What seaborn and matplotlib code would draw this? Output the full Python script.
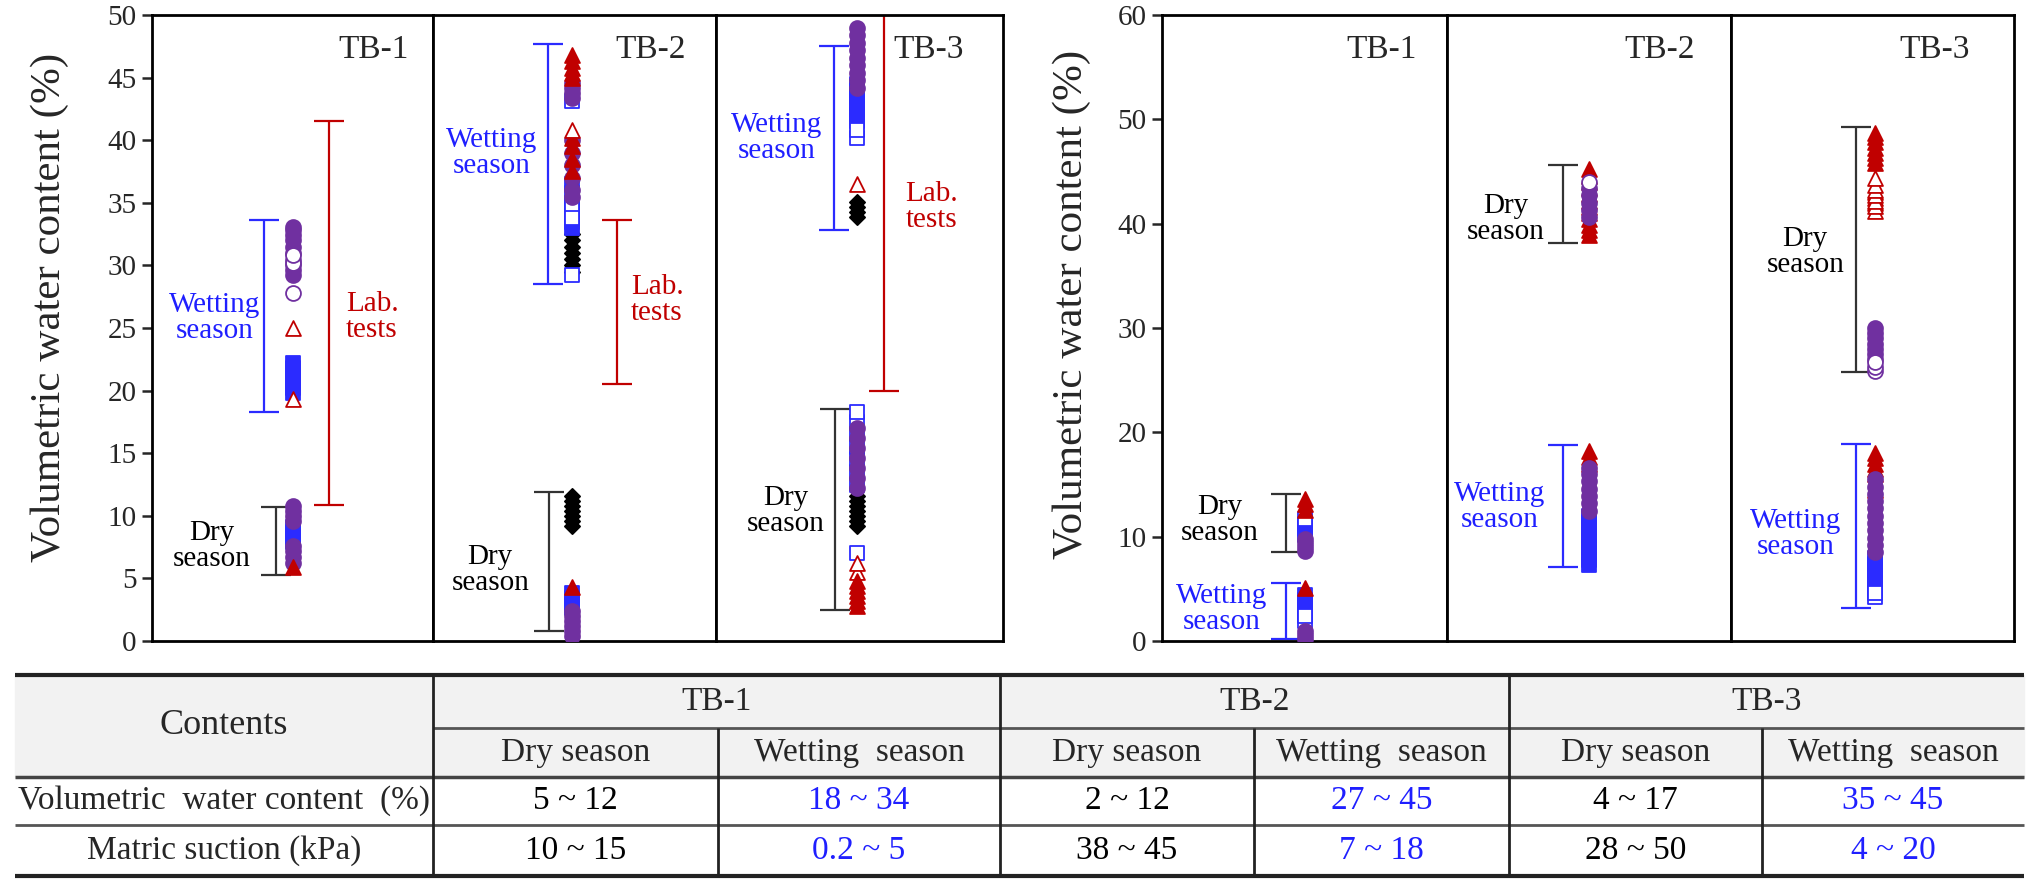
import numpy as np
import matplotlib
matplotlib.use("Agg")
import matplotlib.pyplot as plt
import seaborn as sns

# ---------------- data ----------------
panels = ["TB-1", "TB-2", "TB-3"]

# bracket ranges (low, high) of volumetric water content (%)
left_wet_range = [(18.3, 33.6), (28.5, 47.7), (32.8, 47.5)]
left_dry_range = [(5.3, 10.7), (0.8, 11.9), (2.5, 18.5)]
left_lab_range = [(10.9, 41.5), (20.5, 33.6), (20.0, 50.0)]
right_dry_range = [(8.5, 14.1), (38.1, 45.6), (25.8, 49.3)]
right_wet_range = [(0.2, 5.6), (7.1, 18.8), (3.2, 18.9)]

# measured points per panel, grouped by sensor symbol
left_tb1 = {
    "sq": [19.8, 20.2, 20.6, 21.0, 21.4, 21.8, 22.2, 7.9, 8.3, 8.7, 9.1],
    "circ": [29.2, 29.6, 30.0, 30.4, 31.0, 31.5, 32.0, 32.4, 32.8, 33.1,
             6.2, 6.7, 7.2, 7.6, 9.6, 10.0, 10.4, 10.8],
    "circ_o": [27.8, 30.2, 30.8],
    "tri_o": [25.0, 19.3],
    "tri": [5.9],
}
left_tb2 = {
    "dia": [29.5, 30.0, 30.5, 31.0, 31.5, 32.0, 32.5,
            9.2, 9.6, 10.0, 10.4, 10.8, 11.2, 11.6],
    "sq": [33.0, 33.5, 34.0, 34.5, 35.0, 36.5, 2.6, 3.0, 3.4, 3.8],
    "sq_o": [43.1, 35.8, 34.8, 33.8, 29.2],
    "circ": [43.4, 43.8, 44.2, 44.6, 40.0, 39.0, 38.0, 37.0, 36.0, 35.5,
             0.4, 0.8, 1.2, 1.6, 2.0, 2.4],
    "tri": [45.0, 45.4, 45.8, 46.3, 46.8, 40.2, 39.5, 38.5, 37.5, 4.3],
    "tri_o": [40.8],
}
left_tb3 = {
    "dia": [33.9, 34.3, 34.7, 35.1, 9.2, 9.6, 10.0, 10.4, 10.8, 11.2, 11.6],
    "sq": [41.5, 42.0, 42.5, 43.0, 43.5, 44.0, 44.5],
    "sq_o": [40.2, 40.8, 12.5, 13.5, 14.5, 15.5, 16.5, 17.5, 18.3, 7.0],
    "circ": [44.2, 44.8, 45.4, 46.0, 46.6, 47.2, 47.8, 48.4, 49.0,
             12.2, 13.0, 13.8, 14.6, 15.4, 16.2, 17.0],
    "tri_o": [36.5, 5.5, 6.2],
    "tri": [2.8, 3.2, 3.6, 4.0, 4.4, 4.8],
}
right_tb1 = {
    "sq": [10.2, 10.7, 11.2, 2.9, 3.4, 3.9, 4.4],
    "sq_o": [11.7, 1.9, 2.4],
    "circ": [8.6, 9.0, 9.4, 9.8, 0.2, 0.6, 1.0],
    "tri": [12.6, 13.1, 13.6, 5.1],
}
right_tb2 = {
    "sq": [7.3, 7.8, 8.4, 9.0, 9.6, 10.2, 10.8, 11.4, 12.0],
    "tri": [38.9, 39.4, 39.9, 40.4, 41.0, 41.6, 42.2, 42.8, 43.4, 44.0,
            44.6, 45.2, 17.0, 17.6, 18.2],
    "circ": [40.6, 41.3, 42.0, 42.7, 43.4,
             12.5, 13.2, 13.9, 14.6, 15.3, 16.0, 16.6],
    "circ_o": [44.0],
}
right_tb3 = {
    "sq": [5.0, 5.6, 6.2, 6.8, 7.4, 8.0],
    "sq_o": [4.2, 4.6],
    "tri": [45.8, 46.3, 46.8, 47.3, 47.8, 48.3, 48.7, 42.0, 42.5, 43.0,
            16.0, 16.5, 17.0, 17.5, 18.0],
    "tri_o": [41.2, 41.7, 42.2, 42.7, 43.2, 43.7, 44.4, 14.5],
    "circ": [27.0, 27.5, 28.0, 28.5, 29.0, 29.5, 30.0,
             8.5, 9.2, 9.9, 10.6, 11.3, 12.0, 12.7, 13.4, 14.1, 14.8, 15.5],
    "circ_o": [25.9, 26.3, 26.7],
}

# summary table
table_groups = ["TB-1", "TB-2", "TB-3"]
table_seasons = ["Dry season", "Wetting  season"]
row_labels = ["Volumetric  water content  (%)", "Matric suction (kPa)"]
vwc_ranges = ["5 ~ 12", "18 ~ 34", "2 ~ 12", "27 ~ 45", "4 ~ 17", "35 ~ 45"]
suction_ranges = ["10 ~ 15", "0.2 ~ 5", "38 ~ 45", "7 ~ 18", "28 ~ 50", "4 ~ 20"]

# ---------------- style ----------------
sns.set_style("white")
plt.rcParams["font.family"] = ["Liberation Serif", "DejaVu Serif"]

RED = "#c00000"
BLUE = "#2b2bff"
PURPLE = "#7030a0"
TXT_BLUE = "#1f1fff"

STYLE = {
    "dia": dict(marker="D", fc="black", ec="black", s=60),
    "sq": dict(marker="s", fc=BLUE, ec=BLUE, s=105),
    "sq_o": dict(marker="s", fc="white", ec=BLUE, s=105),
    "circ": dict(marker="o", fc=PURPLE, ec=PURPLE, s=115),
    "circ_o": dict(marker="o", fc="white", ec=PURPLE, s=115),
    "tri": dict(marker="^", fc=RED, ec=RED, s=115),
    "tri_o": dict(marker="^", fc="white", ec=RED, s=115),
}

W, H = 2031, 882
fig = plt.figure(figsize=(W / 100, H / 100), dpi=100)


def px_axes(x0, x1, y_top, y_bot):
    return fig.add_axes([x0 / W, 1 - y_bot / H, (x1 - x0) / W, (y_bot - y_top) / H])


def bracket(ax, x, rng, color):
    lo, hi = rng
    ax.errorbar([x], [(lo + hi) / 2], yerr=[(hi - lo) / 2], fmt="none",
                ecolor=color, elinewidth=1.6, capsize=11, capthick=1.6, zorder=2)


def draw_points(ax, x, groups):
    for kind, vals in groups.items():
        st = STYLE[kind]
        sns.scatterplot(x=np.full(len(vals), x), y=vals, marker=st["marker"],
                        color=st["fc"], edgecolor=st["ec"], s=st["s"],
                        linewidth=1.3, legend=False, ax=ax, zorder=3)


def frame(ax, ymax, step, first):
    ax.set_xlim(0, 1)
    ax.set_ylim(0, ymax)
    ax.set_xticks([])
    ax.set_xlabel("")
    ax.set_ylabel("")
    for sp in ax.spines.values():
        sp.set_visible(True)
        sp.set_color("black")
        sp.set_linewidth(2.0)
    if first:
        ax.set_yticks(np.arange(0, ymax + 1, step))
        ax.tick_params(axis="y", direction="out", length=7, width=1.8,
                       labelsize=21, pad=4, left=True)
    else:
        ax.set_yticks([])


# ---------------- left chart ----------------
left_edges = [152, 433, 716, 1003]
left_groups = [left_tb1, left_tb2, left_tb3]
left_x = [  # (wet bracket, dry bracket, markers, lab bracket, tb label)
    (0.40, 0.44, 0.50, 0.63, 0.79),
    (0.405, 0.41, 0.49, 0.65, 0.77),
    (0.41, 0.415, 0.49, 0.585, 0.74),
]
left_text = [  # wet text (x, y), dry text (x, y), lab text (x, y)
    ((0.385, 25.8), (0.35, 7.6), (0.69, 25.9)),
    ((0.37, 39.0), (0.34, 5.7), (0.70, 27.2)),
    ((0.37, 40.2), (0.38, 10.4), (0.66, 34.7)),
]
for i in range(3):
    ax = px_axes(left_edges[i], left_edges[i + 1], 15, 641)
    xw, xd, xm, xl, xt = left_x[i]
    bracket(ax, xw, left_wet_range[i], BLUE)
    bracket(ax, xd, left_dry_range[i], "#333333")
    bracket(ax, xl, left_lab_range[i], RED)
    draw_points(ax, xm, left_groups[i])
    frame(ax, 50, 5, i == 0)
    (wx, wy), (dx, dy), (lx, ly) = left_text[i]
    ax.text(wx, wy, "Wetting\nseason", color=TXT_BLUE, fontsize=21,
            ha="right", va="center", multialignment="center", linespacing=1.0)
    ax.text(dx, dy, "Dry\nseason", color="black", fontsize=21,
            ha="right", va="center", multialignment="center", linespacing=1.0)
    ax.text(lx, ly, "Lab.\ntests", color=RED, fontsize=21,
            ha="left", va="center", multialignment="left", linespacing=1.0)
    ax.text(xt, 47.2, panels[i], fontsize=24, ha="center", va="center")

fig.text(50 / W, 1 - 307 / H, "Volumetric water content (%)", rotation=90,
         ha="center", va="center", fontsize=31)

# ---------------- right chart ----------------
right_edges = [1162, 1447, 1731, 2014]
right_groups = [right_tb1, right_tb2, right_tb3]
right_x = [  # (bracket, markers, tb label)
    (0.435, 0.50, 0.77),
    (0.41, 0.50, 0.75),
    (0.44, 0.51, 0.72),
]
right_text = [  # dry text (x, y), wet text (x, y)
    ((0.34, 11.6), (0.37, 3.1)),
    ((0.345, 40.4), (0.345, 12.8)),
    ((0.40, 37.3), (0.39, 10.3)),
]
for i in range(3):
    ax = px_axes(right_edges[i], right_edges[i + 1], 15, 641)
    xb, xm, xt = right_x[i]
    bracket(ax, xb, right_dry_range[i], "#333333")
    bracket(ax, xb, right_wet_range[i], BLUE)
    draw_points(ax, xm, right_groups[i])
    frame(ax, 60, 10, i == 0)
    (dx, dy), (wx, wy) = right_text[i]
    ax.text(dx, dy, "Dry\nseason", color="black", fontsize=21,
            ha="right", va="center", multialignment="center", linespacing=1.0)
    ax.text(wx, wy, "Wetting\nseason", color=TXT_BLUE, fontsize=21,
            ha="right", va="center", multialignment="center", linespacing=1.0)
    ax.text(xt, 56.7, panels[i], fontsize=24, ha="center", va="center")

fig.text(1072 / W, 1 - 304 / H, "Volumetric water content (%)", rotation=90,
         ha="center", va="center", fontsize=31)

# ---------------- table ----------------
tax = fig.add_axes([0, 0, 1, (H - 665) / H])
tax.set_xlim(0, W)
tax.set_ylim(H, 665)
tax.axis("off")

col_edges = [15, 433, 718, 1000, 1254, 1509, 1762, 2024]
row_edges = [675, 728, 777, 825, 876]

tax.fill_between([col_edges[0], col_edges[-1]], row_edges[0], row_edges[2],
                 color="#f2f2f2", zorder=0)
tax.hlines([row_edges[0], row_edges[-1]], col_edges[0], col_edges[-1],
           color="#222222", lw=3)
tax.hlines(row_edges[2], col_edges[0], col_edges[-1], color="#444444", lw=2.5)
tax.hlines(row_edges[3], col_edges[0], col_edges[-1], color="#555555", lw=2)
tax.hlines(row_edges[1], col_edges[1], col_edges[-1], color="#555555", lw=2)
tax.vlines([col_edges[1], col_edges[3], col_edges[5]], row_edges[0], row_edges[-1],
           color="#222222", lw=2)
tax.vlines([col_edges[2], col_edges[4], col_edges[6]], row_edges[1], row_edges[-1],
           color="#222222", lw=2)

tfs = 24
tax.text((col_edges[0] + col_edges[1]) / 2, (row_edges[0] + row_edges[2]) / 2,
         "Contents", ha="center", va="center", fontsize=26)
for g, name in enumerate(table_groups):
    c0, c1 = col_edges[1 + 2 * g], col_edges[3 + 2 * g]
    tax.text((c0 + c1) / 2, (row_edges[0] + row_edges[1]) / 2, name,
             ha="center", va="center", fontsize=tfs)
for j in range(6):
    cx = (col_edges[1 + j] + col_edges[2 + j]) / 2
    tax.text(cx, (row_edges[1] + row_edges[2]) / 2, table_seasons[j % 2],
             ha="center", va="center", fontsize=tfs)
    col = "black" if j % 2 == 0 else TXT_BLUE
    tax.text(cx, (row_edges[2] + row_edges[3]) / 2, vwc_ranges[j],
             ha="center", va="center", fontsize=tfs, color=col)
    tax.text(cx, (row_edges[3] + row_edges[4]) / 2, suction_ranges[j],
             ha="center", va="center", fontsize=tfs, color=col)
for r, lab in enumerate(row_labels):
    tax.text((col_edges[0] + col_edges[1]) / 2, (row_edges[2 + r] + row_edges[3 + r]) / 2,
             lab, ha="center", va="center", fontsize=tfs)

fig.savefig("out.png", dpi=100)
